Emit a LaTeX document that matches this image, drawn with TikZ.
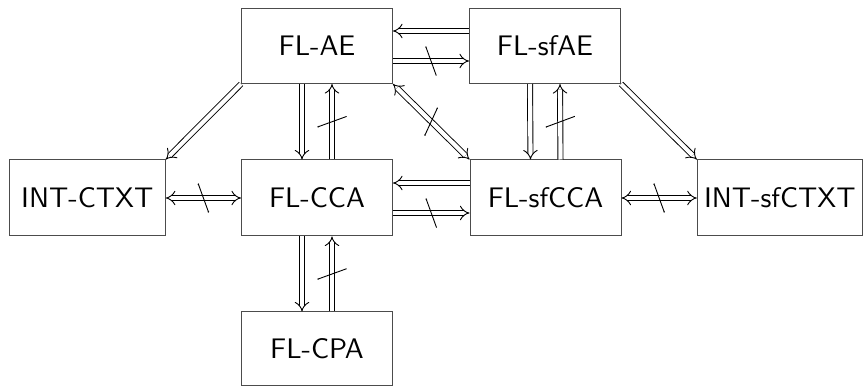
\documentclass[tikz,border=0pt]{standalone}
\usepackage{fontspec}
\newfontfamily\boxfont{lmsans10-regular}[Extension=.otf]
\usetikzlibrary{arrows.meta,decorations.markings}
\begin{document}
\begin{tikzpicture}[x=1pt,y=-1pt,
  box/.style={draw=black!70, line width=1pt, inner sep=0pt, minimum height=75pt,
    font=\boxfont\fontsize{28.3}{34}\selectfont},
  imp/.style={double, double distance=4.2pt, line width=0.9pt, -{Implies[scale=1.8]}},
  impboth/.style={double, double distance=4.2pt, line width=0.9pt, {Implies[scale=1.8]}-{Implies[scale=1.8]}},
  notimp/.style={postaction={decorate, decoration={markings,
    mark=at position 0.5 with {\draw[line width=0.9pt] (5.3pt,-14.6pt) -- (-5.3pt,14.6pt);}}}}]
\useasboundingbox (0,0) rectangle (863,387);
\node[box, minimum width=151pt] (AE) at (317,46) {FL-AE};
\node[box, minimum width=151pt] (sfAE) at (545,46) {FL-sfAE};
\node[box, minimum width=156pt, minimum height=76pt] (CTXT) at (87.3,198) {INT-CTXT};
\node[box, minimum width=151pt, minimum height=76pt] (CCA) at (317,198) {FL-CCA};
\node[box, minimum width=151pt, minimum height=76pt] (sfCCA) at (545.5,198) {FL-sfCCA};
\node[box, minimum width=165pt, minimum height=76pt] (sfCTXT) at (779.8,198) {INT-sfCTXT};
\node[box, minimum width=151pt, minimum height=74pt] (CPA) at (317,349) {FL-CPA};
% top row
\draw[imp] ([yshift=15pt]sfAE.west) -- ([yshift=15pt]AE.east);
\draw[imp, notimp] ([yshift=-15pt]AE.east) -- ([yshift=-15pt]sfAE.west);
% diagonals
\draw[impboth, notimp] (AE.south east) -- (sfCCA.north west);
\draw[imp] (AE.south west) -- (CTXT.north east);
\draw[imp] (sfAE.south east) -- (sfCTXT.north west);
% verticals
\draw[imp] ([xshift=-15pt]AE.south) -- ([xshift=-15pt]CCA.north);
\draw[imp, notimp] ([xshift=15pt]CCA.north) -- ([xshift=15pt]AE.south);
\draw[imp] ([xshift=-15pt]sfAE.south) -- ([xshift=-15pt]sfCCA.north);
\draw[imp, notimp] ([xshift=15pt]sfCCA.north) -- ([xshift=15pt]sfAE.south);
\draw[imp] ([xshift=-15pt]CCA.south) -- ([xshift=-15pt]CPA.north);
\draw[imp, notimp] ([xshift=15pt]CPA.north) -- ([xshift=15pt]CCA.south);
% middle row
\draw[impboth, notimp] (CTXT.east) -- (CCA.west);
\draw[impboth, notimp] (sfCCA.east) -- (sfCTXT.west);
\draw[imp] ([yshift=15pt]sfCCA.west) -- ([yshift=15pt]CCA.east);
\draw[imp, notimp] ([yshift=-15pt]CCA.east) -- ([yshift=-15pt]sfCCA.west);
\end{tikzpicture}
\end{document}
